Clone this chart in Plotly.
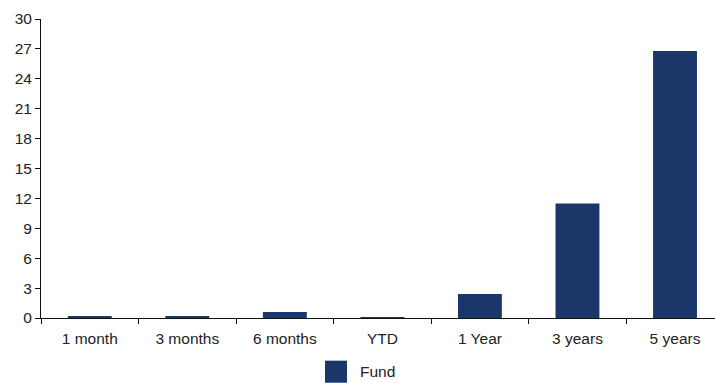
import plotly.graph_objects as go

categories = ["1 month", "3 months", "6 months", "YTD", "1 Year", "3 years", "5 years"]
fund_values = [0.2, 0.2, 0.6, 0.1, 2.4, 11.5, 26.8]
series_name = "Fund"
y_ticks = list(range(0, 31, 3))

BAR_COLOR = "#1b3769"
FONT = "Liberation Sans, Arial, sans-serif"
TEXT_COLOR = "#222222"
FS = 15.5

fig = go.Figure()
fig.add_trace(go.Bar(
    x=categories, y=fund_values, name=series_name,
    marker=dict(color=BAR_COLOR, line=dict(width=0)),
    width=0.45, showlegend=False,
))

fig.update_layout(
    width=715, height=383,
    margin=dict(l=41, r=0, t=19, b=65),
    paper_bgcolor="white", plot_bgcolor="white",
    font=dict(family=FONT, size=FS, color=TEXT_COLOR),
    xaxis=dict(
        type="category", range=[-0.5, 6.41],
        showline=True, linecolor="#111111", linewidth=1,
        ticks="outside", ticklen=5, tickcolor="#111111", tickson="boundaries",
        showgrid=False, zeroline=False, ticklabelstandoff=6,
        tickfont=dict(family=FONT, size=FS, color=TEXT_COLOR),
    ),
    yaxis=dict(
        range=[0, 30], tickvals=y_ticks,
        showline=True, linecolor="#111111", linewidth=1,
        ticks="outside", ticklen=5, tickcolor="#111111",
        showgrid=False, zeroline=False,
        tickfont=dict(family=FONT, size=FS, color=TEXT_COLOR),
    ),
)

# custom legend: large square + label
fig.add_shape(type="rect", xref="paper", yref="paper",
              x0=0.4214, x1=0.454, y0=-0.2165, y1=-0.1427,
              fillcolor=BAR_COLOR, line=dict(width=0))
fig.add_annotation(xref="paper", yref="paper", x=0.470, y=-0.18,
                   text=series_name, showarrow=False, xanchor="left", yanchor="middle",
                   font=dict(family=FONT, size=FS, color=TEXT_COLOR))

fig.write_html("out.html")
